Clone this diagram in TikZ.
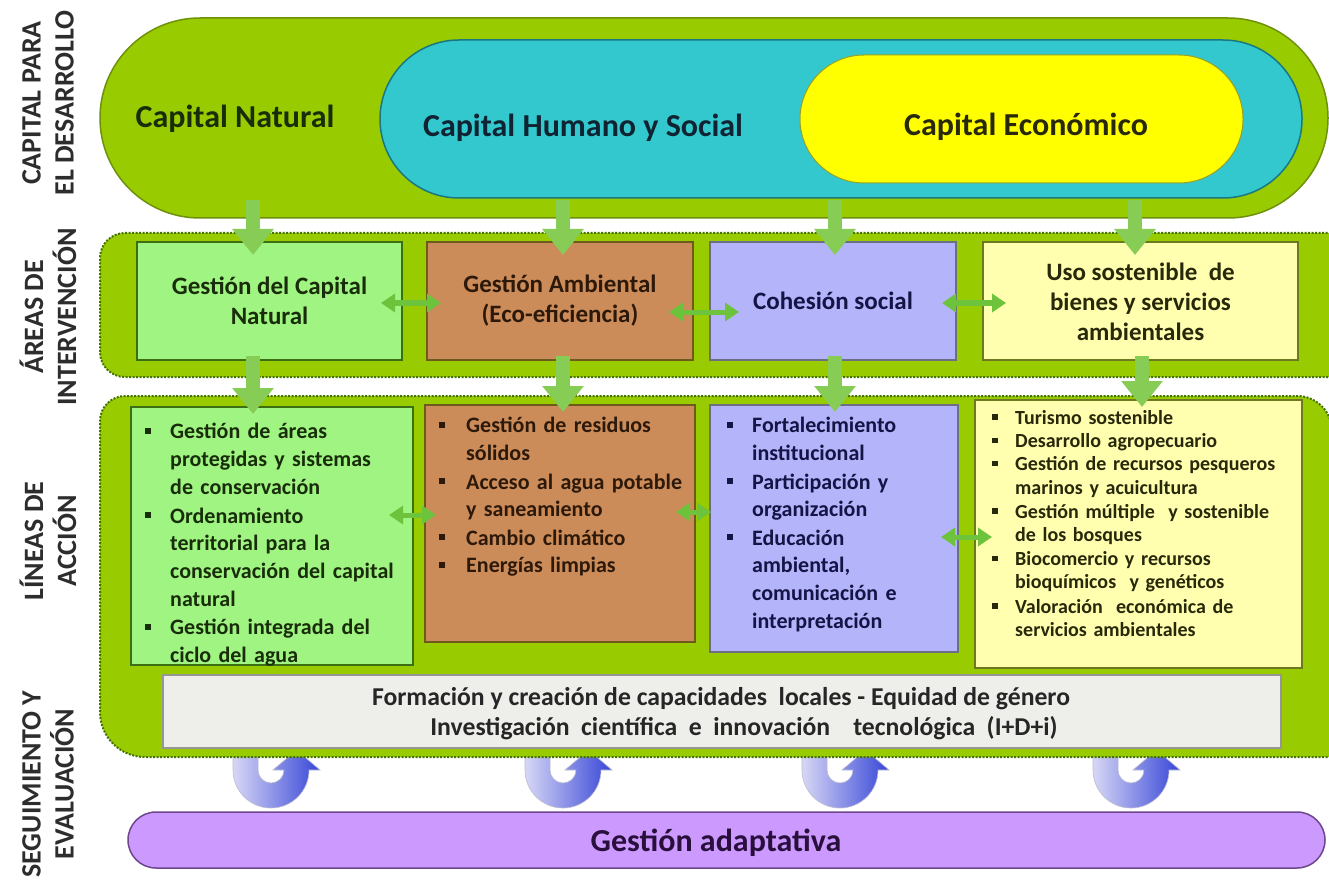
\documentclass[tikz,border=0pt]{standalone}
\usepackage{fontspec}
\setmainfont{Carlito}
\usetikzlibrary{arrows.meta,calc}
\definecolor{topgreen}{RGB}{153,204,0}
\definecolor{topedge}{RGB}{110,145,10}
\definecolor{cyanf}{RGB}{50,200,205}
\definecolor{cyanedge}{RGB}{25,120,130}
\definecolor{yellowf}{RGB}{255,255,0}
\definecolor{yellowedge}{RGB}{150,160,40}
\definecolor{banddot}{RGB}{70,115,0}
\definecolor{boxgreen}{RGB}{160,245,130}
\definecolor{boxgreenedge}{RGB}{60,110,20}
\definecolor{boxbrown}{RGB}{204,140,90}
\definecolor{boxbrownedge}{RGB}{110,90,30}
\definecolor{boxlav}{RGB}{180,180,250}
\definecolor{boxlavedge}{RGB}{110,110,130}
\definecolor{boxyel}{RGB}{255,255,175}
\definecolor{boxyeledge}{RGB}{110,120,30}
\definecolor{greyf}{RGB}{238,238,234}
\definecolor{greyedge}{RGB}{150,150,150}
\definecolor{purplef}{RGB}{204,153,255}
\definecolor{purpleedge}{RGB}{110,70,140}
\definecolor{arrowgreen}{RGB}{135,205,85}
\definecolor{harrowgreen}{RGB}{110,195,60}
\definecolor{labgrey}{RGB}{45,45,45}
\definecolor{txtgreen}{RGB}{25,45,10}
\definecolor{txtbrown}{RGB}{45,25,10}
\definecolor{txtnavy}{RGB}{20,20,70}
\definecolor{txtolive}{RGB}{40,40,10}
\definecolor{txtcyan}{RGB}{15,35,50}
\definecolor{txtpurple}{RGB}{40,15,60}
\definecolor{ushadeL}{RGB}{215,215,245}
\definecolor{ushadeR}{RGB}{55,70,215}
\newlength\bind
\newlength\bpre
\newcommand\bl[1]{\par\noindent\makebox[\bind][l]{\hspace{\bpre}\raisebox{.22em}{\rule{.28em}{.28em}}}\begin{tabular}[t]{@{}l@{}}#1\end{tabular}\par}
\tikzset{
  lab/.style={rotate=90, align=center, text=labgrey, font=\bfseries\fontsize{28}{33}\selectfont, inner sep=0},
  captxt/.style={anchor=base, inner sep=0, font=\bfseries\fontsize{32}{38}\selectfont},
  band/.style={fill=topgreen, draw=banddot, line width=2pt, dash pattern=on 2pt off 1.5pt},
  rowbox/.style={rectangle, line width=2pt, inner sep=0, align=center, font=\bfseries\fontsize{25}{30}\selectfont},
  listbox/.style={rectangle, line width=2pt, inner sep=0},
  listtxt/.style={anchor=north west, inner sep=0, text width=340pt},
  darrow/.style={draw=arrowgreen, line width=14pt, -{Triangle[width=40pt,length=26pt]}},
  harrow/.style={draw=harrowgreen, line width=5pt, {Triangle[width=18pt,length=14pt]}-{Triangle[width=18pt,length=14pt]}},
  uarrow/.style={left color=ushadeL, right color=ushadeR, draw=ushadeL!70!gray, line width=.6pt}
}
\begin{document}
\begin{tikzpicture}[x=1pt,y=-1pt]
\useasboundingbox (0,0) rectangle (1329,882);
\fill[white] (0,0) rectangle (1329,882);

% left labels
\node[lab] (l1) at (48,103) {CAPITAL PARA\\EL DESARROLLO};
\node[lab] (l2) at (48,317) {ÁREAS DE\\INTERVENCIÓN};
\node[lab] (l3) at (48,541) {LÍNEAS DE\\ACCIÓN};
\node[lab] (l4) at (48,784) {SEGUIMIENTO Y\\EVALUACIÓN};

% capital stadiums
\node[draw=topedge, fill=topgreen, line width=1.5pt, rounded corners=100pt, minimum width=1228pt, minimum height=200pt, inner sep=0] (top) at (714,118) {};
\node[draw=cyanedge, fill=cyanf, line width=1.5pt, rounded corners=79pt, minimum width=922pt, minimum height=158pt, inner sep=0] (cyan) at (841,119) {};
\node[draw=yellowedge, fill=yellowf, line width=1pt, rounded corners=64pt, minimum width=443pt, minimum height=128pt, inner sep=0] (yel) at (1021.5,119) {};
\node[captxt, text=txtgreen] (capN) at (235,128) {Capital Natural};
\node[captxt, text=txtcyan] (capH) at (583,137) {Capital Humano y Social};
\node[captxt, text=txtolive] (capE) at (1026,136) {Capital Económico};

% blue U-turn arrows (drawn under the band)
\foreach \cx in {271,563,840,1131}{
  \shade[uarrow] (\cx-38,752) -- (\cx-38,770) arc[start angle=180,end angle=0,radius=38]
    -- (\cx+49,770) -- (\cx+25.5,750) -- (\cx+2,770) -- (\cx+13,770)
    arc[start angle=0,end angle=180,radius=13] -- (\cx-13,752) -- cycle;
}

% bands
\draw[band] (1345,233) -- (125,233) arc[start angle=270,end angle=180,radius=25]
  -- (100,352) arc[start angle=180,end angle=90,radius=25] -- (1345,377);
\draw[band] (1345,757) -- (145,757) arc[start angle=90,end angle=180,radius=45]
  -- (100,421) arc[start angle=180,end angle=270,radius=25] -- (1297,396)
  arc[start angle=270,end angle=360,radius=35] -- (1332,757);

% row 1 boxes
\node[rowbox, draw=boxgreenedge, fill=boxgreen, text=txtgreen, minimum width=265pt, minimum height=118pt] (b1) at (269.5,301) {Gestión del Capital\\Natural};
\node[rowbox, draw=boxbrownedge, fill=boxbrown, text=txtbrown, minimum width=266pt, minimum height=118pt] (b2) at (560,301) {Gestión Ambiental\\(Eco-eficiencia)};
\node[rowbox, draw=boxlavedge, fill=boxlav, text=txtnavy, minimum width=246pt, minimum height=118pt] (b3) at (833,301) {Cohesión social};
\node[rowbox, draw=boxyeledge, fill=boxyel, text=txtolive, minimum width=315pt, minimum height=118pt, text depth=4pt, text height=14pt] (b4) at (1140.5,301) {\raisebox{-5pt}{\begin{tabular}{@{}c@{}}Uso sostenible\ \ de\\bienes y servicios\\ambientales\end{tabular}}};

% row 2 boxes
\node[listbox, draw=boxgreenedge, fill=boxgreen, minimum width=282pt, minimum height=258pt] (c1) at (272,536) {};
\node[listbox, draw=boxbrownedge, fill=boxbrown, minimum width=270pt, minimum height=237pt] (c2) at (560,523.5) {};
\node[listbox, draw=boxlavedge, fill=boxlav, minimum width=248pt, minimum height=247pt] (c3) at (834,528.5) {};
\node[listbox, draw=boxyeledge, fill=boxyel, minimum width=327pt, minimum height=268pt] (c4) at (1138.5,534) {};

\node[listtxt, text=txtgreen, font=\bfseries\fontsize{22}{27.7}\selectfont] (t1) at (143,411) {%
  \setlength\bind{27pt}\setlength\bpre{2pt}%
  \bl{Gestión de áreas\\protegidas y sistemas\\de conservación}%
  \bl{Ordenamiento\\territorial para la\\conservación del capital\\natural}%
  \bl{Gestión integrada del\\ciclo del agua}};
\node[listtxt, text=txtbrown, font=\bfseries\fontsize{22}{27.6}\selectfont] (t2) at (437,405) {%
  \setlength\bind{29pt}\setlength\bpre{2pt}%
  \bl{Gestión de residuos\\sólidos}%
  \bl{Acceso al agua potable\\y saneamiento}%
  \bl{Cambio climático}%
  \bl{Energías limpias}};
\node[listtxt, text=txtnavy, font=\bfseries\fontsize{22}{27.6}\selectfont] (t3) at (725,405) {%
  \setlength\bind{27pt}\setlength\bpre{2pt}%
  \bl{Fortalecimiento\\institucional}%
  \bl{Participación y\\organización}%
  \bl{Educación\\ambiental,\\comunicación e\\interpretación}};
\node[listtxt, text=txtolive, font=\bfseries\fontsize{20}{23.2}\selectfont] (t4) at (990,401) {%
  \setlength\bind{25pt}\setlength\bpre{2pt}%
  \bl{Turismo sostenible}%
  \bl{Desarrollo agropecuario}%
  \bl{Gestión de recursos pesqueros\\marinos y acuicultura}%
  \bl{Gestión múltiple\ \ y sostenible\\de los bosques}%
  \bl{Biocomercio y recursos\\bioquímicos\ \ y genéticos}%
  \bl{Valoración\ \ económica de\\servicios ambientales}};

% grey box
\node[rectangle, draw=greyedge, fill=greyf, line width=1.5pt, minimum width=1118pt, minimum height=73pt, inner sep=0] (grey) at (722,711.5) {};
\node[anchor=base, inner sep=0, text=black!85, font=\bfseries\fontsize{25.7}{30}\selectfont] (g1) at (721,705) {Formación y creación de capacidades\ \ locales - Equidad de género};
\node[anchor=base, inner sep=0, text=black!85, font=\bfseries\fontsize{25.7}{30}\selectfont] (g2) at (744,735) {\spaceskip=.45em Investigación científica e innovación\ \ tecnológica (I+D+i)};

% purple bar
\node[draw=purpleedge, fill=purplef, line width=1.5pt, rounded corners=28pt, minimum width=1197pt, minimum height=56pt, inner sep=0] (ga) at (726.5,840) {};
\node[anchor=base, inner sep=0, text=txtpurple, font=\bfseries\fontsize{32}{38}\selectfont] (gat) at (716,851) {Gestión adaptativa};

% down arrows
\foreach \i/\x in {1/253,2/563,3/835,4/1135}{
  \coordinate (d\i) at (\x,200);
  \draw[darrow, shorten >=-14pt] (d\i) -- (d\i |- b\i.north);
}
\foreach \i/\x in {1/253,2/563,3/835,4/1142}{
  \coordinate (e\i) at (\x,356);
  \draw[darrow, shorten >=-8pt] (e\i) -- (e\i |- c\i.north);
}

% horizontal double arrows
\draw[harrow, shorten <=-22pt, shorten >=-15pt] ([yshift=-2pt]b1.east) -- ([yshift=-2pt]b2.west);
\draw[harrow, shorten <=-25pt, shorten >=-30pt] ([yshift=-11pt]b2.east) -- ([yshift=-11pt]b3.west);
\draw[harrow, shorten <=-15pt, shorten >=-24pt] ([yshift=-2pt]b3.east) -- ([yshift=-2pt]b4.west);
\draw[harrow, shorten <=-25pt, shorten >=-12pt] (c1.east |- 0,515) -- (c2.west |- 0,515);
\draw[harrow, shorten <=-20pt, shorten >=-2pt] (c2.east |- 0,512) -- (c3.west |- 0,512);
\draw[harrow, shorten <=-18pt, shorten >=-18pt] (c3.east |- 0,537) -- (c4.west |- 0,537);
\end{tikzpicture}
\end{document}
